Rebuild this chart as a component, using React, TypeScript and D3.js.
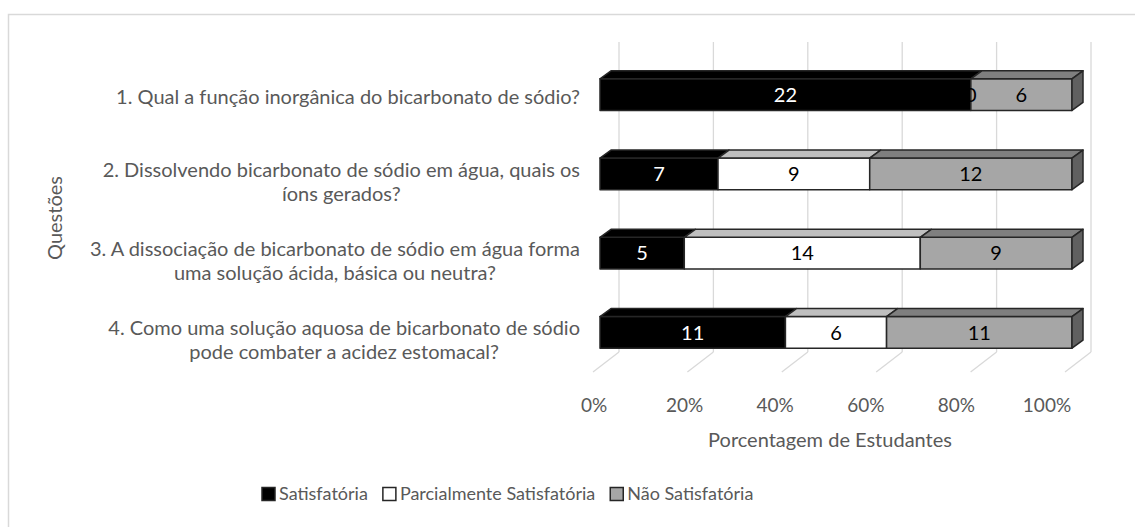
import { useEffect, useRef } from "react";
import * as d3 from "d3";

// category labels, already split on the lines Excel wrapped them on
const questions: string[][] = [
  ["1. Qual a função inorgânica do bicarbonato de sódio?"],
  ["2. Dissolvendo bicarbonato de sódio em água, quais os", "íons gerados?"],
  ["3. A dissociação de bicarbonato de sódio em água forma", "uma solução ácida, básica ou neutra?"],
  ["4. Como uma solução aquosa de bicarbonato de sódio", "pode combater a acidez estomacal?"],
];
const seriesNames = ["Satisfatória", "Parcialmente Satisfatória", "Não Satisfatória"];
const satisfatoria = [22, 7, 5, 11];
const parcialmente = [0, 9, 14, 6];
const naoSatisfatoria = [6, 12, 9, 11];
const xTicks = [0, 0.2, 0.4, 0.6, 0.8, 1];

const frontFill = ["#000000", "#ffffff", "#a6a6a6"];
const topFill = ["#000000", "#bfbfbf", "#7f7f7f"];
const sideFill = ["#000000", "#d9d9d9", "#606060"];
const labelFill = ["#ffffff", "#000000", "#000000"];
const textGray = "#595959";
const font = "Lato, 'Open Sans', sans-serif";

export default function App() {
  const svgRef = useRef<SVGSVGElement>(null);

  useEffect(() => {
    if (!svgRef.current) return;
    const svg = d3.select(svgRef.current);
    svg.selectAll("*").remove();

    const keys = ["s", "p", "n"];
    const rows = questions.map((_, i) => ({
      idx: String(i),
      s: satisfatoria[i],
      p: parcialmente[i],
      n: naoSatisfatoria[i],
    }));
    const stacked = d3.stack<any>().keys(keys).offset(d3.stackOffsetExpand)(rows);

    // front plane of the bars
    const x = d3.scaleLinear().domain([0, 1]).range([600, 1072]);
    const y = d3
      .scaleBand<string>()
      .domain(rows.map((r) => r.idx))
      .range([55, 372])
      .paddingInner(0.6)
      .paddingOuter(0.3);
    // back wall, floor front edge and tick label positions
    const xBack = d3.scaleLinear().domain([0, 1]).range([619, 1091]);
    const xFloor = d3.scaleLinear().domain([0, 1]).range([593, 1065]);
    const xTickLab = d3.scaleLinear().domain([0, 1]).range([594, 1047]);
    const wallTop = 42;
    const wallBottom = 352;
    const floorFront = 372;
    const bdx = 11;
    const bdy = -8;

    // chart border (right/bottom sit outside the picture)
    svg
      .append("rect")
      .attr("x", 8.5)
      .attr("y", 14.5)
      .attr("width", 1200)
      .attr("height", 600)
      .attr("fill", "#fff")
      .attr("stroke", "#d9d9d9")
      .attr("stroke-width", 1.5);

    const grid = svg.append("g").attr("stroke", "#d9d9d9").attr("stroke-width", 1.3);
    xTicks.forEach((t) => {
      grid
        .append("line")
        .attr("x1", xBack(t))
        .attr("x2", xBack(t))
        .attr("y1", wallTop)
        .attr("y2", wallBottom);
      grid
        .append("line")
        .attr("x1", xBack(t))
        .attr("y1", wallBottom)
        .attr("x2", xFloor(t))
        .attr("y2", floorFront);
    });

    svg
      .append("g")
      .selectAll("text")
      .data(xTicks)
      .join("text")
      .attr("x", (d) => xTickLab(d))
      .attr("y", 412)
      .attr("text-anchor", "middle")
      .attr("font-family", font)
      .attr("font-size", 19)
      .attr("fill", textGray)
      .text((d) => d3.format(".0%")(d));

    svg
      .append("text")
      .attr("x", 830)
      .attr("y", 447)
      .attr("text-anchor", "middle")
      .attr("font-family", font)
      .attr("font-size", 20)
      .attr("fill", textGray)
      .text("Porcentagem de Estudantes");

    svg
      .append("text")
      .attr("transform", "translate(62,218) rotate(-90)")
      .attr("text-anchor", "middle")
      .attr("font-family", font)
      .attr("font-size", 20)
      .attr("fill", textGray)
      .text("Questões");

    // category labels: block right-aligned near the axis, lines centred in it
    const catG = svg.append("g");
    questions.forEach((lines, i) => {
      const cy = (y(String(i)) ?? 0) + y.bandwidth() / 2;
      const g = catG.append("g");
      const texts = lines.map((ln, j) =>
        g
          .append("text")
          .attr("y", cy + 2 - (lines.length - 1) * 6 + j * 24)
          .attr("dy", "0.35em")
          .attr("text-anchor", "middle")
          .attr("font-family", font)
          .attr("font-size", 20)
          .attr("fill", textGray)
          .text(ln)
      );
      const w = d3.max(texts, (t) => (t.node() as SVGTextElement).getComputedTextLength()) ?? 0;
      texts.forEach((t) => t.attr("x", 580 - w / 2));
    });

    // 3D stacked bars
    const bars = svg.append("g").attr("stroke", "#262626").attr("stroke-width", 1.5).attr("stroke-linejoin", "round");
    rows.forEach((r, i) => {
      const top = y(r.idx) ?? 0;
      const bot = top + y.bandwidth();
      stacked.forEach((layer, k) => {
        const [a, b] = layer[i];
        if (b - a <= 0) return;
        const x0 = x(a);
        const x1 = x(b);
        bars
          .append("rect")
          .attr("x", x0)
          .attr("y", top)
          .attr("width", x1 - x0)
          .attr("height", bot - top)
          .attr("fill", frontFill[k]);
        bars
          .append("path")
          .attr("d", `M${x0},${top}L${x0 + bdx},${top + bdy}L${x1 + bdx},${top + bdy}L${x1},${top}Z`)
          .attr("fill", topFill[k]);
        if (b >= 0.9999) {
          bars
            .append("path")
            .attr("d", `M${x1},${top}L${x1 + bdx},${top + bdy}L${x1 + bdx},${bot + bdy}L${x1},${bot}Z`)
            .attr("fill", sideFill[k]);
        }
      });
    });

    // data labels
    const lab = svg.append("g");
    rows.forEach((r, i) => {
      const cy = (y(r.idx) ?? 0) + y.bandwidth() / 2;
      stacked.forEach((layer, k) => {
        const [a, b] = layer[i];
        lab
          .append("text")
          .attr("x", x((a + b) / 2))
          .attr("y", cy)
          .attr("dy", "0.36em")
          .attr("text-anchor", "middle")
          .attr("font-family", font)
          .attr("font-size", 20)
          .attr("fill", labelFill[k])
          .text(String((r as any)[keys[k]]));
      });
    });

    // legend
    const leg = svg.append("g");
    let lx = 262;
    const ly = 494;
    seriesNames.forEach((name, k) => {
      leg
        .append("rect")
        .attr("x", lx)
        .attr("y", ly - 6.5)
        .attr("width", 13)
        .attr("height", 13)
        .attr("fill", frontFill[k])
        .attr("stroke", "#262626")
        .attr("stroke-width", 1.5);
      const t = leg
        .append("text")
        .attr("x", lx + 17)
        .attr("y", ly)
        .attr("dy", "0.35em")
        .attr("font-family", font)
        .attr("font-size", 18)
        .attr("fill", textGray)
        .text(name);
      lx += 17 + (t.node() as SVGTextElement).getComputedTextLength() + 15;
    });
  }, []);

  return (
    <svg
      ref={svgRef}
      width={1135}
      height={527}
      style={{ position: "absolute", left: 0, top: 0, background: "#fff" }}
    />
  );
}
